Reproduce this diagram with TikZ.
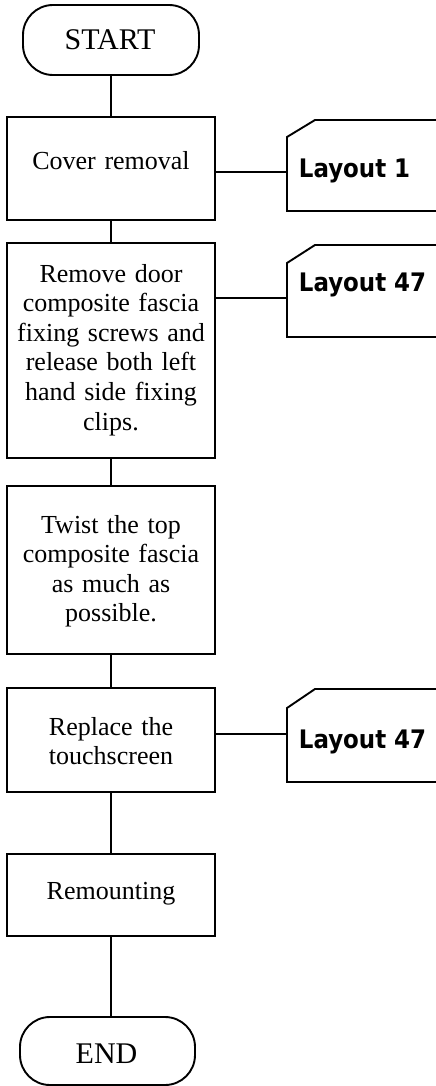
\documentclass[tikz,border=0pt]{standalone}
\usepackage{fontspec}
\setmainfont{Liberation Serif}
\newfontfamily\layfont{DejaVu Sans Condensed}
\begin{document}
\begin{tikzpicture}[x=1pt,y=-1pt,
  line width=1.9pt,
  box/.style={draw, rectangle, inner sep=0pt, minimum width=208pt},
  term/.style={draw, rectangle, rounded corners=30pt, inner sep=0pt},
  txt/.style={inner sep=0pt, text width=208pt, align=center, font=\fontsize{26}{29.6}\selectfont},
  ttxt/.style={inner sep=0pt, font=\fontsize{30}{34}\selectfont},
  ltxt/.style={inner sep=0pt, anchor=base west, font=\layfont\bfseries\fontsize{25.5}{30}\selectfont},
  conn/.style={draw}
]
\useasboundingbox (0,0) rectangle (436,1086);
% terminals
\node[term, minimum width=176pt, minimum height=70pt] (start) at (111,40) {};
\node[ttxt, anchor=base] (starttxt) at (110,50) {START};
\node[term, minimum width=175pt, minimum height=68pt] (end) at (107.5,1051) {};
\node[ttxt, anchor=base] (endtxt) at (106.5,1063) {END};
% boxes
\node[box, minimum height=103pt] (b1) at (111,168.5) {};
\node[box, minimum height=215pt] (b2) at (111,350.5) {};
\node[box, minimum height=168pt] (b3) at (111,570) {};
\node[box, minimum height=104pt] (b4) at (111,740) {};
\node[box, minimum height=82pt] (b5) at (111,895) {};
% box texts
\node[txt, anchor=base] (t1) at (111,170) {Cover removal};
\node[txt, anchor=base] (t2) at (111,282) {Remove door\\composite fascia\\fixing screws and\\release both left\\hand side fixing\\clips.};
\node[txt, anchor=base] (t3) at (111,533) {Twist the top\\composite fascia\\as much as\\possible.};
\node[txt, anchor=base] (t4) at (111,735) {Replace the\\touchscreen};
\node[txt, anchor=base] (t5) at (111,899) {Remounting};
% main flow connectors
\draw (start.south) -- (b1.north);
\draw (b1.south) -- (b2.north);
\draw (b2.south) -- (b3.north);
\draw (b3.south) -- (b4.north);
\draw (b4.south) -- (b5.north);
\draw (b5.south) -- (end.north -| b5.south);
% layout documents
\begin{scope}
\clip (0,0) rectangle (436,1086);
\draw (440,120) -- (315,120) -- (287,137) -- (287,211) -- (440,211);
\draw (440,245) -- (315,245) -- (287,263) -- (287,337) -- (440,337);
\draw (440,689) -- (315,689) -- (287,708) -- (287,782) -- (440,782);
\end{scope}
\coordinate (d1) at (287,172);
\coordinate (d2) at (287,298);
\coordinate (d3) at (287,734);
\node[ltxt] (l1) at (298,178) {Layout 1};
\node[ltxt] (l2) at (298,291.5) {Layout 47};
\node[ltxt] (l3) at (298,748.5) {Layout 47};
\draw (b1.east |- d1) -- (d1);
\draw (b2.east |- d2) -- (d2);
\draw (b4.east |- d3) -- (d3);
\end{tikzpicture}
\end{document}
